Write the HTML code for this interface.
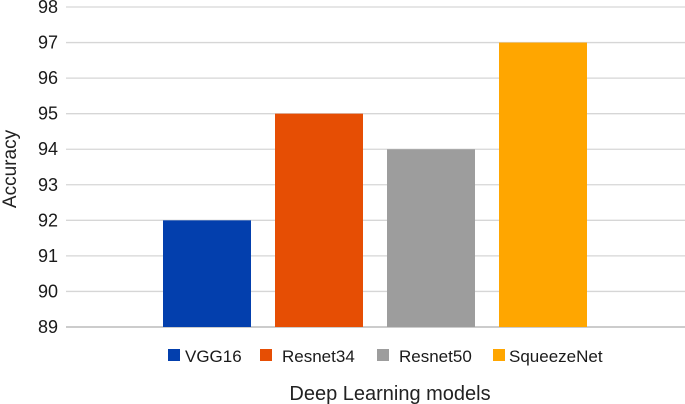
<!DOCTYPE html>
<html><head><meta charset="utf-8"><style>
body{margin:0;background:#fff;}
svg{display:block;font-family:"Liberation Sans",sans-serif;}
</style></head><body>
<svg id="chart" width="685" height="404" viewBox="0 0 685 404" xmlns="http://www.w3.org/2000/svg">
<g id="grid"></g>
<g id="yticks"></g>
<g id="bars"></g>
<text transform="translate(16,169) rotate(-90)" text-anchor="middle" font-size="19" fill="#222">Accuracy</text>
<g id="legend"></g>
<text x="390" y="400" text-anchor="middle" font-size="20" fill="#222">Deep Learning models</text>
</svg>
<script>
const categories = ["VGG16","Resnet34","Resnet50","SqueezeNet"];
const values = [92,95,94,97];
const colors = ["#033fad","#e64e04","#9d9d9d","#ffa600"];
const yTicks = [89,90,91,92,93,94,95,96,97,98];
const NS="http://www.w3.org/2000/svg";
const yMin=89,yMax=98,yTop=7,yBot=327;
const y=v=>yBot-(v-yMin)/(yMax-yMin)*(yBot-yTop);
const x0=66,x1=685,firstBar=163,step=112,barW=88;
function mk(t,a){const e=document.createElementNS(NS,t);for(const k in a)e.setAttribute(k,a[k]);return e;}
const grid=document.getElementById('grid'),yt=document.getElementById('yticks');
yTicks.forEach(v=>{
  const l=mk('line',{x1:x0,x2:x1,y1:y(v),y2:y(v),stroke:v===yMin?'#bbb':'#d6d6d6','stroke-width':v===yMin?1.5:1.3});
  
  
  grid.appendChild(l);
  const t=mk('text',{x:58,y:y(v)+6,'text-anchor':'end','font-size':18,fill:'#1a1a1a'});
  t.textContent=v;
  
  
  yt.appendChild(t);
});
const bars=document.getElementById('bars');
values.forEach((v,i)=>{
  const r=mk('rect',{x:firstBar+i*step,y:y(v),width:barW,height:y(yMin)-y(v),fill:colors[i]});
  
  
  bars.appendChild(r);
});
const lg=document.getElementById('legend');
const lx=[168,260,377,493];
categories.forEach((c,i)=>{
  const s=mk('rect',{x:lx[i],y:349,width:12,height:12,fill:colors[i]});
  
  
  lg.appendChild(s);
  const t=mk('text',{x:lx[i]+(i===0?17:i===3?16:22),y:362,'font-size':17,fill:'#1a1a1a'});
  t.textContent=c;
  
  
  lg.appendChild(t);
});
</script>
</body></html>
